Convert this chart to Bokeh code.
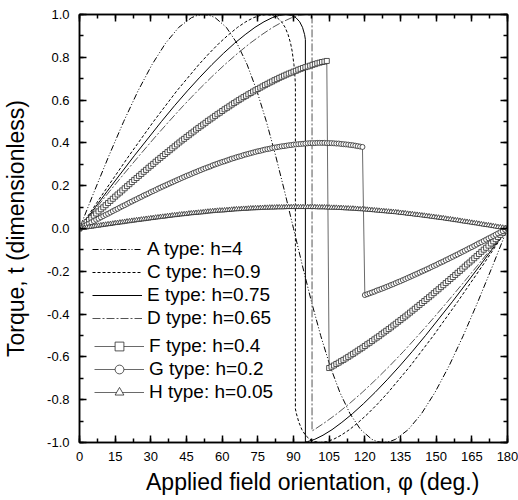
from bokeh.plotting import figure
from bokeh.models import (Range1d, LinearAxis, SingleIntervalTicker, NumeralTickFormatter,
                          Legend, LegendItem)
from bokeh.embed import file_html
from bokeh.resources import INLINE

FONT = "Liberation Sans"

# ---------------- data ----------------
# applied-field angle grid (deg) used for the marker series
phi = list(range(0, 181))

# F type: h=0.4 (squares)
F_t = [0.000, 0.010, 0.020, 0.030, 0.040, 0.050, 0.060, 0.070, 0.080, 0.090,
       0.099, 0.109, 0.119, 0.129, 0.139, 0.149, 0.159, 0.168, 0.178, 0.188,
       0.198, 0.207, 0.217, 0.227, 0.236, 0.246, 0.255, 0.265, 0.274, 0.284,
       0.293, 0.302, 0.312, 0.321, 0.330, 0.339, 0.348, 0.357, 0.366, 0.375,
       0.384, 0.393, 0.402, 0.411, 0.419, 0.428, 0.436, 0.445, 0.453, 0.462,
       0.470, 0.478, 0.486, 0.494, 0.503, 0.510, 0.518, 0.526, 0.534, 0.541,
       0.549, 0.557, 0.564, 0.571, 0.579, 0.586, 0.593, 0.600, 0.607, 0.614,
       0.620, 0.627, 0.633, 0.640, 0.646, 0.652, 0.658, 0.664, 0.670, 0.676,
       0.682, 0.687, 0.693, 0.698, 0.704, 0.709, 0.714, 0.719, 0.724, 0.728,
       0.733, 0.737, 0.742, 0.746, 0.750, 0.754, 0.757, 0.761, 0.765, 0.768,
       0.772, 0.775, 0.778, 0.780, 0.783,
       -0.652, -0.646, -0.640, -0.633, -0.627, -0.620, -0.614, -0.607, -0.600, -0.593,
       -0.586, -0.579, -0.571, -0.564, -0.557, -0.549, -0.541, -0.534, -0.526, -0.518,
       -0.510, -0.503, -0.494, -0.486, -0.478, -0.470, -0.462, -0.453, -0.445, -0.436,
       -0.428, -0.419, -0.411, -0.402, -0.393, -0.384, -0.375, -0.366, -0.357, -0.348,
       -0.339, -0.330, -0.321, -0.312, -0.302, -0.293, -0.284, -0.274, -0.265, -0.255,
       -0.246, -0.236, -0.227, -0.217, -0.207, -0.198, -0.188, -0.178, -0.168, -0.159,
       -0.149, -0.139, -0.129, -0.119, -0.109, -0.099, -0.090, -0.080, -0.070, -0.060,
       -0.050, -0.040, -0.030, -0.020, -0.010, 0.000]

# G type: h=0.2 (circles)
G_t = [0.000, 0.006, 0.012, 0.017, 0.023, 0.029, 0.035, 0.041, 0.046, 0.052,
       0.058, 0.064, 0.069, 0.075, 0.081, 0.087, 0.092, 0.098, 0.104, 0.109,
       0.115, 0.121, 0.126, 0.132, 0.137, 0.143, 0.148, 0.154, 0.159, 0.164,
       0.170, 0.175, 0.180, 0.186, 0.191, 0.196, 0.201, 0.206, 0.211, 0.216,
       0.221, 0.226, 0.231, 0.236, 0.241, 0.246, 0.250, 0.255, 0.260, 0.264,
       0.269, 0.273, 0.278, 0.282, 0.286, 0.290, 0.295, 0.299, 0.303, 0.307,
       0.311, 0.314, 0.318, 0.322, 0.326, 0.329, 0.333, 0.336, 0.339, 0.343,
       0.346, 0.349, 0.352, 0.355, 0.358, 0.361, 0.363, 0.366, 0.369, 0.371,
       0.373, 0.376, 0.378, 0.380, 0.382, 0.384, 0.385, 0.387, 0.389, 0.390,
       0.392, 0.393, 0.394, 0.395, 0.396, 0.397, 0.398, 0.399, 0.399, 0.399,
       0.400, 0.400, 0.400, 0.400, 0.399, 0.399, 0.399, 0.398, 0.397, 0.397,
       0.395, 0.394, 0.393, 0.392, 0.390, 0.389, 0.387, 0.385, 0.383, 0.381,
       -0.311, -0.307, -0.303, -0.299, -0.295, -0.290, -0.286, -0.282, -0.278, -0.273,
       -0.269, -0.264, -0.260, -0.255, -0.250, -0.246, -0.241, -0.236, -0.231, -0.226,
       -0.221, -0.216, -0.211, -0.206, -0.201, -0.196, -0.191, -0.186, -0.180, -0.175,
       -0.170, -0.164, -0.159, -0.154, -0.148, -0.143, -0.137, -0.132, -0.126, -0.121,
       -0.115, -0.109, -0.104, -0.098, -0.092, -0.087, -0.081, -0.075, -0.069, -0.064,
       -0.058, -0.052, -0.046, -0.041, -0.035, -0.029, -0.023, -0.017, -0.012, -0.006,
       0.000]

# H type: h=0.05 (triangles)
H_t = [0.000, 0.002, 0.003, 0.005, 0.007, 0.008, 0.010, 0.012, 0.013, 0.015,
       0.017, 0.018, 0.020, 0.021, 0.023, 0.025, 0.026, 0.028, 0.029, 0.031,
       0.033, 0.034, 0.036, 0.037, 0.039, 0.040, 0.042, 0.043, 0.045, 0.046,
       0.048, 0.049, 0.051, 0.052, 0.054, 0.055, 0.056, 0.058, 0.059, 0.061,
       0.062, 0.063, 0.065, 0.066, 0.067, 0.068, 0.070, 0.071, 0.072, 0.073,
       0.074, 0.075, 0.076, 0.078, 0.079, 0.080, 0.081, 0.082, 0.083, 0.084,
       0.084, 0.085, 0.086, 0.087, 0.088, 0.089, 0.090, 0.090, 0.091, 0.092,
       0.092, 0.093, 0.094, 0.094, 0.095, 0.095, 0.096, 0.096, 0.097, 0.097,
       0.098, 0.098, 0.098, 0.099, 0.099, 0.099, 0.099, 0.100, 0.100, 0.100,
       0.100, 0.100, 0.100, 0.100, 0.100, 0.100, 0.100, 0.100, 0.100, 0.100,
       0.099, 0.099, 0.099, 0.099, 0.098, 0.098, 0.097, 0.097, 0.097, 0.096,
       0.096, 0.095, 0.094, 0.094, 0.093, 0.093, 0.092, 0.091, 0.090, 0.090,
       0.089, 0.088, 0.087, 0.086, 0.085, 0.084, 0.083, 0.082, 0.081, 0.080,
       0.079, 0.078, 0.077, 0.076, 0.075, 0.073, 0.072, 0.071, 0.069, 0.068,
       0.067, 0.065, 0.064, 0.063, 0.061, 0.060, 0.058, 0.057, 0.055, 0.054,
       0.052, 0.051, 0.049, 0.048, 0.046, 0.044, 0.043, 0.041, 0.039, 0.038,
       0.036, 0.034, 0.032, 0.031, 0.029, 0.027, 0.025, 0.024, 0.022, 0.020,
       0.018, 0.016, 0.015, 0.013, 0.011, 0.009, 0.007, 0.006, 0.004, 0.002,
       0.000]

# A type: h=4
A_phi = [0, 6.24, 12.45, 18.58, 24.61, 30.50, 36.21, 41.75, 47.07, 49.65, 52.18, 54.65,
         57.07, 61.75, 66.21, 70.50, 74.61, 78.58, 82.45, 86.24, 90.0, 93.76, 97.55,
         101.42, 105.39, 109.50, 113.79, 118.25, 122.93, 125.35, 127.82, 130.35, 132.93,
         138.25, 143.79, 149.50, 155.39, 161.42, 167.55, 173.76, 180]
A_t = [0, 0.174, 0.342, 0.500, 0.643, 0.766, 0.866, 0.940, 0.985, 0.996, 1.000, 0.996,
       0.985, 0.940, 0.866, 0.766, 0.643, 0.500, 0.342, 0.174, 0.0, -0.174, -0.342,
       -0.500, -0.643, -0.766, -0.866, -0.940, -0.985, -0.996, -1.000, -0.996, -0.985,
       -0.940, -0.866, -0.766, -0.643, -0.500, -0.342, -0.174, 0]

# C type: h=0.9
C_phi = [0, 10.54, 20.95, 31.13, 40.92, 50.19, 54.57, 58.76, 62.73, 66.47, 69.96, 73.17,
         76.10, 78.75, 81.10, 83.17, 84.96, 86.47, 87.73, 88.76, 89.43, 90.19, 90.63, 90.8,
         90.8, 91.24, 92.27, 93.53, 95.04, 96.83, 98.90, 101.25, 103.90, 106.83, 110.04,
         113.53, 117.27, 121.24, 125.43, 129.81, 139.08, 148.87, 159.05, 169.46, 180]
C_t = [0, 0.174, 0.342, 0.500, 0.643, 0.766, 0.819, 0.866, 0.906, 0.940, 0.966, 0.985,
       0.996, 1.000, 0.996, 0.985, 0.966, 0.940, 0.906, 0.866, 0.829, 0.766, 0.707, 0.670,
       -0.843, -0.866, -0.906, -0.940, -0.966, -0.985, -0.996, -1.000, -0.996, -0.985, -0.966,
       -0.940, -0.906, -0.866, -0.819, -0.766, -0.643, -0.500, -0.342, -0.174, 0]

# E type: h=0.75
E_phi = [0, 11.65, 23.18, 34.47, 39.98, 45.37, 50.63, 55.71, 60.60, 65.26, 69.67, 73.79,
         77.59, 81.03, 84.11, 86.81, 89.11, 91.03, 92.59, 93.79, 94.67, 95.0,
         95.0, 95.89, 98.97, 102.41, 106.21, 110.33, 114.74, 119.40, 124.29, 129.37,
         134.63, 140.02, 145.53, 156.82, 168.35, 180]
E_t = [0, 0.174, 0.342, 0.500, 0.574, 0.643, 0.707, 0.766, 0.819, 0.866, 0.906, 0.940,
       0.966, 0.985, 0.996, 1.000, 0.996, 0.985, 0.966, 0.940, 0.906, 0.883,
       -0.998, -0.996, -0.985, -0.966, -0.940, -0.906, -0.866, -0.819, -0.766, -0.707,
       -0.643, -0.574, -0.500, -0.342, -0.174, 0]

# D type: h=0.65
D_phi = [0, 6.35, 12.68, 18.98, 25.25, 31.47, 37.62, 43.68, 49.64, 55.45, 61.10, 66.56,
         71.77, 76.70, 81.29, 85.49, 89.24, 92.52, 95.28, 97.52, 97.8,
         97.8, 98.71, 103.30, 108.23, 113.44, 118.90, 124.55, 130.36, 136.32, 142.38,
         148.53, 154.75, 161.02, 167.32, 173.65, 180]
D_t = [0, 0.087, 0.174, 0.259, 0.342, 0.423, 0.500, 0.574, 0.643, 0.707, 0.766, 0.819,
       0.866, 0.906, 0.940, 0.966, 0.985, 0.996, 1.000, 0.996, 0.995,
       -0.946, -0.940, -0.906, -0.866, -0.819, -0.766, -0.707, -0.643, -0.574, -0.500,
       -0.423, -0.342, -0.259, -0.174, -0.087, 0]

labels = ["A type: h=4", "C type: h=0.9", "E type: h=0.75", "D type: h=0.65",
          "F type: h=0.4", "G type: h=0.2", "H type: h=0.05"]

x_title = "Applied field orientation, \u03c6 (deg.)"
y_title = "Torque, t (dimensionless)"

x_tick_step = 15
y_tick_step = 0.2

# ---------------- figure ----------------
p = figure(frame_width=428, frame_height=428,
           min_border_left=71, min_border_right=11, min_border_top=14, min_border_bottom=58,
           x_range=Range1d(0, 180), y_range=Range1d(-1, 1),
           x_axis_type=None, y_axis_type=None,
           output_backend="svg", toolbar_location=None)
p.outline_line_color = "black"
p.outline_line_width = 1.5
p.background_fill_color = "white"
p.border_fill_color = "white"


def style_axis(ax, show):
    ax.major_tick_in = 7
    ax.major_tick_out = 0
    ax.minor_tick_in = 4
    ax.minor_tick_out = 0
    ax.axis_line_width = 1.5
    ax.major_tick_line_width = 1.5
    ax.minor_tick_line_width = 1.5
    ax.axis_line_color = "black"
    ax.major_tick_line_color = "black"
    ax.minor_tick_line_color = "black"
    ax.major_label_text_font = FONT
    ax.axis_label_text_font = FONT
    ax.axis_label_text_font_style = "normal"
    ax.axis_label_text_color = "black"
    ax.major_label_text_color = "black"
    if not show:
        ax.major_label_text_font_size = "1px"
        ax.major_label_text_color = None
        ax.major_label_standoff = 0


# leading no-break spaces shift the centred x title to the right, as in the reference
xb = LinearAxis(ticker=SingleIntervalTicker(interval=x_tick_step, num_minor_ticks=2),
                formatter=NumeralTickFormatter(format="0"),
                axis_label="\u00a0" * 6 + x_title)
style_axis(xb, True)
xb.major_label_text_font_size = "13px"
xb.major_label_standoff = 9
xb.axis_label_text_font_size = "23px"
xb.axis_label_standoff = 5
p.add_layout(xb, "below")

yl = LinearAxis(ticker=SingleIntervalTicker(interval=y_tick_step, num_minor_ticks=2),
                formatter=NumeralTickFormatter(format="0.0"),
                axis_label=y_title)
style_axis(yl, True)
yl.major_label_text_font_size = "13px"
yl.major_label_standoff = 10
yl.axis_label_text_font_size = "23px"
yl.axis_label_standoff = 15
p.add_layout(yl, "left")

xt = LinearAxis(ticker=SingleIntervalTicker(interval=x_tick_step, num_minor_ticks=2))
style_axis(xt, False)
p.add_layout(xt, "above")

yr = LinearAxis(ticker=SingleIntervalTicker(interval=y_tick_step, num_minor_ticks=2))
style_axis(yr, False)
p.add_layout(yr, "right")

# ---------------- curves ----------------
mk_line = "#6a6a6a"
mk_edge = "#2a2a2a"

rA = p.line(A_phi, A_t, line_color="black", line_width=1, line_dash="6 2 1 2 1 2")
rC = p.line(C_phi, C_t, line_color="black", line_width=1, line_dash="3 2")
rE = p.line(E_phi, E_t, line_color="black", line_width=1)
rD = p.line(D_phi, D_t, line_color="#555555", line_width=1, line_dash="8 2 2 2")

rFl = p.line(phi, F_t, line_color=mk_line, line_width=1)
rFm = p.scatter(phi, F_t, marker="square", size=5, line_color=mk_edge, fill_color="white", line_width=0.8)
rGl = p.line(phi, G_t, line_color=mk_line, line_width=1)
rGm = p.scatter(phi, G_t, marker="circle", size=5, line_color=mk_edge, fill_color="white", line_width=0.8)
rHl = p.line(phi, H_t, line_color=mk_line, line_width=1)
rHm = p.scatter(phi, H_t, marker="triangle", size=5, line_color=mk_edge, fill_color="white", line_width=0.8)

legend_style = dict(glyph_width=50, glyph_height=22, label_height=22, spacing=1,
                    padding=0, margin=0, label_standoff=5, border_line_alpha=0,
                    background_fill_alpha=0, label_text_font=FONT,
                    label_text_font_size="19px", label_text_color="black")

legend1 = Legend(items=[
    LegendItem(label=labels[0], renderers=[rA]),
    LegendItem(label=labels[1], renderers=[rC]),
    LegendItem(label=labels[2], renderers=[rE]),
    LegendItem(label=labels[3], renderers=[rD]),
], location=(13, 113), **legend_style)
legend2 = Legend(items=[
    LegendItem(label=labels[4], renderers=[rFl, rFm]),
    LegendItem(label=labels[5], renderers=[rGl, rGm]),
    LegendItem(label=labels[6], renderers=[rHl, rHm]),
], location=(15, 39), **legend_style)
p.add_layout(legend1)
p.add_layout(legend2)

open("out.html", "w").write(file_html(p, INLINE))
